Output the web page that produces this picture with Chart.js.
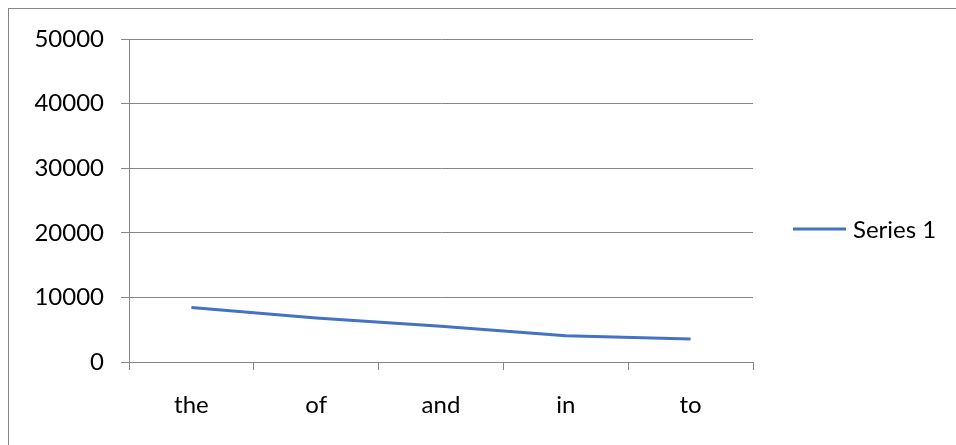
<!DOCTYPE html>
<html>
<head>
<meta charset="utf-8">
<script src="https://cdn.jsdelivr.net/npm/chart.js@4"></script>
<style>
  html, body { margin: 0; padding: 0; background: #fff; }
  #wrap { position: relative; width: 956px; height: 445px; overflow: hidden; }
  #frame { position: absolute; left: 8px; top: 8px; width: 960px; height: 450px; border: 1px solid #868686; box-sizing: border-box; }
  canvas { position: absolute; left: 0; top: 0; }
</style>
</head>
<body>
<div id="wrap">
  <div id="frame"></div>
  <canvas id="c" width="956" height="445"></canvas>
</div>
<script>
const categories = ["the", "of", "and", "in", "to"];
const seriesName = "Series 1";
const seriesValues = [8450, 6800, 5550, 4050, 3550];
const yTicks = [0, 10000, 20000, 30000, 40000, 50000];

const FONT = "Lato";
const GRID = "#868686";
const LINE = "#4472C4";

const legendPlugin = {
  id: "sideLegend",
  afterDraw(chart) {
    const ctx = chart.ctx;
    const ds = chart.data.datasets[0];
    ctx.save();
    ctx.strokeStyle = ds.borderColor;
    ctx.lineWidth = 3;
    ctx.beginPath();
    ctx.moveTo(793, 229);
    ctx.lineTo(846, 229);
    ctx.stroke();
    ctx.fillStyle = "#000";
    ctx.font = "24px " + FONT;
    ctx.textBaseline = "middle";
    ctx.textAlign = "left";
    ctx.fillText(ds.label, 853, 230);
    ctx.restore();
  }
};

new Chart(document.getElementById("c"), {
  type: "line",
  data: {
    labels: categories,
    datasets: [{
      label: seriesName,
      data: seriesValues,
      borderColor: LINE,
      backgroundColor: LINE,
      borderWidth: 3,
      pointRadius: 0,
      tension: 0,
      fill: false
    }]
  },
  options: {
    responsive: false,
    animation: false,
    devicePixelRatio: 1,
    layout: { padding: { left: 0, top: 39, right: 203, bottom: 0 } },
    plugins: { legend: { display: false }, tooltip: { enabled: false } },
    scales: {
      x: {
        type: "category",
        offset: true,
        afterFit(scale) { scale.height = 83; },
        grid: { offset: true, drawOnChartArea: false, drawTicks: true, tickLength: 8, color: GRID, lineWidth: 1 },
        border: { display: true, color: GRID, width: 1 },
        ticks: { color: "#000", font: { family: FONT, size: 24 }, padding: 21, maxRotation: 0, autoSkip: false }
      },
      y: {
        min: 0,
        max: 50000,
        afterFit(scale) { scale.width = 129; },
        afterBuildTicks(scale) { scale.ticks = yTicks.map(v => ({ value: v })); },
        grid: { color: GRID, lineWidth: 1, tickLength: 8, drawTicks: true },
        border: { display: true, color: GRID, width: 1 },
        ticks: { color: "#000", font: { family: FONT, size: 24 }, padding: 17, callback: v => String(v) }
      }
    }
  },
  plugins: [legendPlugin]
});
</script>
</body>
</html>
